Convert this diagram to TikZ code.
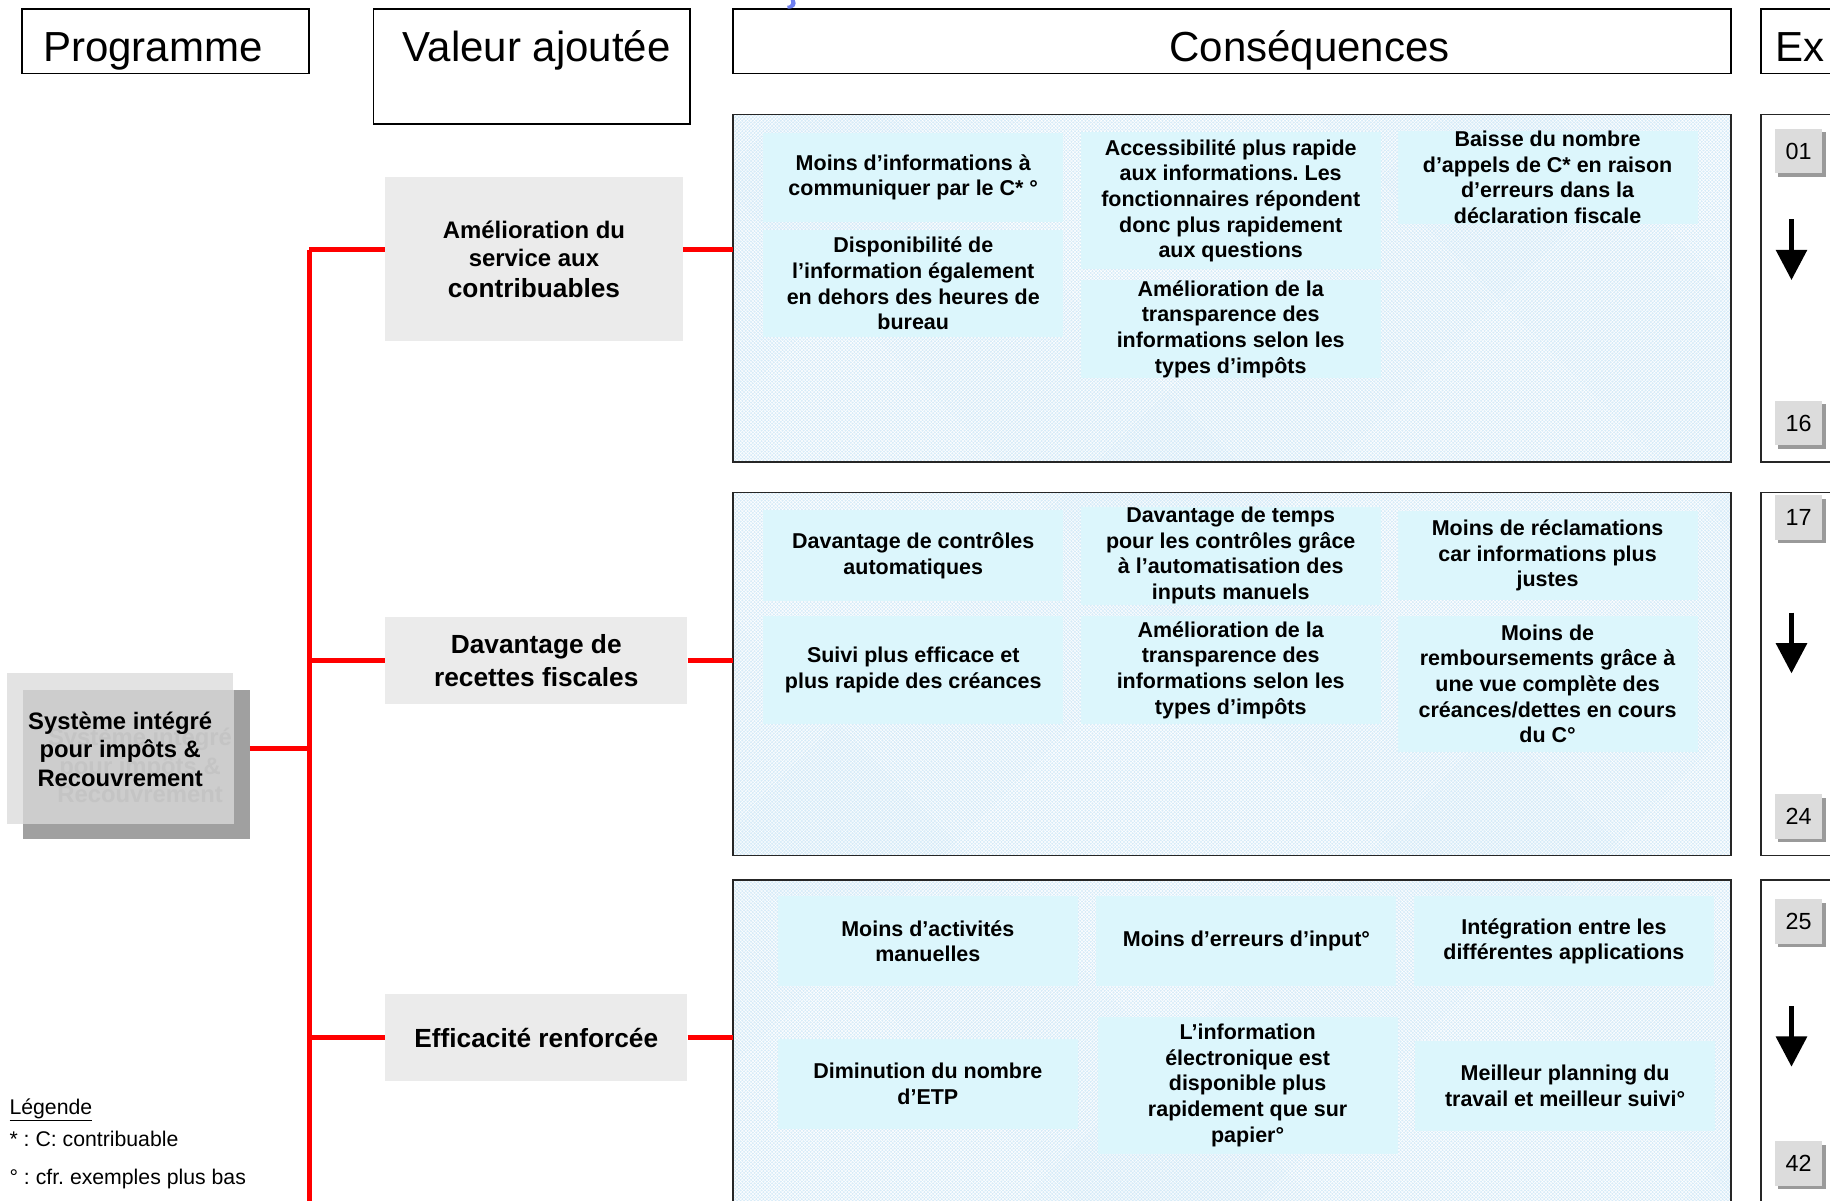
\documentclass[tikz,border=0pt]{standalone}
\usepackage{fontspec}
\setmainfont{Liberation Sans}
\usetikzlibrary{patterns,arrows.meta}
\frenchspacing
\definecolor{secbg}{HTML}{D6EBF8}
\definecolor{cellbg}{HTML}{DCF6FC}
\definecolor{valbg}{HTML}{EBEBEB}
\definecolor{tilebg}{HTML}{DCDCDC}
\definecolor{tilesh}{HTML}{9A9A9A}
\definecolor{proglight}{HTML}{E3E3E3}
\definecolor{progdark}{HTML}{A0A0A0}
\definecolor{progmid}{HTML}{CDCDCD}
\definecolor{ghost}{HTML}{C4C4C4}
\definecolor{bluemark}{HTML}{6E7FF0}
\newcommand\cellfont{\bfseries\fontsize{18.4}{22}\selectfont}
\newcommand\hdrfont{\fontsize{36}{40}\selectfont}
\begin{document}
\begin{tikzpicture}[x=1pt,y=-1pt,
  hdrbox/.style={draw=black, line width=1.5pt, inner sep=0pt},
  hdrtxt/.style={font=\hdrfont, inner sep=0pt, anchor=base},
  secbox/.style={fill=secbg, inner sep=0pt, minimum width=855pt,
     postaction={pattern=crosshatch, pattern color=white},
     postaction={draw=black!85, line width=1.5pt}},
  exbox/.style={draw=black!85, line width=1.5pt, inner sep=0pt, minimum width=91pt},
  cell/.style={fill=cellbg, inner sep=0pt, minimum width=257pt, align=center, font=\cellfont},
  valnode/.style={fill=valbg, inner sep=0pt, align=center},
  tile/.style={fill=tilebg, inner sep=0pt, minimum width=41pt, minimum height=38pt,
     font=\fontsize{20}{24}\selectfont,
     preaction={fill=tilesh, transform canvas={xshift=3pt, yshift=-3pt}}},
  redl/.style={draw=red, line width=4pt},
  bigarrow/.style={line width=4.5pt, -{Triangle[width=26pt,length=26pt]}},
  legend/.style={font=\fontsize{18.2}{22}\selectfont, inner sep=0pt, anchor=base west}]
\useasboundingbox (0,0) rectangle (1568,1029);
\clip (0,0) rectangle (1568,1029);

% headers
\node[hdrbox, minimum width=246pt, minimum height=55pt] (hprog) at (142,35.5) {};
\node[hdrtxt] (hprogt) at (131,53) {Programme};
\node[hdrbox, minimum width=271pt, minimum height=98pt] (hval) at (455.5,57) {};
\node[hdrtxt] (hvalt) at (460,53) {Valeur ajoutée};
\node[hdrbox, minimum width=855pt, minimum height=55pt] (hcons) at (1055.5,35.5) {};
\node[hdrtxt] (hconst) at (1122,53) {Conséquences};
\node[hdrbox, minimum width=91pt, minimum height=55pt] (hex) at (1554.5,35.5) {};
\node[hdrtxt, anchor=base west] (hext) at (1521,53) {Ex};
\fill[bluemark] (681,0) .. controls (683,4) and (681,7.5) .. (675,7.5) -- (674.5,5) .. controls (677.5,5) and (678.5,3) .. (677.5,0) -- cycle;

% section boxes
\node[secbox, minimum height=298pt] (s1) at (1055.5,247) {};
\node[secbox, minimum height=311pt] (s2) at (1055.5,577.5) {};
\node[secbox, minimum height=306pt] (s3) at (1055.5,907) {};

% ex boxes
\node[exbox, minimum height=298pt] (x1) at (1554.5,247) {};
\node[exbox, minimum height=311pt] (x2) at (1554.5,577.5) {};
\node[exbox, minimum height=306pt] (x3) at (1554.5,907) {};

% section 1 cells
\node[cell, minimum height=76pt] (c11) at (782.5,152) {Moins d’informations à\\communiquer par le C* °};
\node[cell, minimum height=92pt] (c12) at (782.5,243) {Disponibilité de\\l’information également\\en dehors des heures de\\bureau};
\node[cell, minimum height=117pt] (c21) at (1054.5,172) {Accessibilité plus rapide\\aux informations. Les\\fonctionnaires répondent\\donc plus rapidement\\aux questions};
\node[cell, minimum height=84pt] (c22) at (1054.5,282) {Amélioration de la\\transparence des\\informations selon les\\types d’impôts};
\node[cell, minimum height=77pt] (c31) at (1326,152) {Baisse du nombre\\d’appels de C* en raison\\d’erreurs dans la\\déclaration fiscale};

% section 2 cells
\node[cell, minimum height=78pt] (d11) at (782.5,476) {Davantage de contrôles\\automatiques};
\node[cell, minimum height=92pt] (d12) at (782.5,574) {Suivi plus efficace et\\plus rapide des créances};
\node[cell, minimum height=84pt] (d21) at (1054.5,476) {Davantage de temps\\pour les contrôles grâce\\à l’automatisation des\\inputs manuels};
\node[cell, minimum height=92pt] (d22) at (1054.5,574) {Amélioration de la\\transparence des\\informations selon les\\types d’impôts};
\node[cell, minimum height=77pt] (d31) at (1326,476) {Moins de réclamations\\car informations plus\\justes};
\node[cell, minimum height=116pt] (d32) at (1326,586) {Moins de\\remboursements grâce à\\une vue complète des\\créances/dettes en cours\\du C°};

% section 3 cells
\node[cell, minimum height=77pt] (e11) at (795,806.5) {Moins d’activités\\manuelles};
\node[cell, minimum height=77pt] (e12) at (795,928.5) {Diminution du nombre\\d’ETP};
\node[cell, minimum height=77pt] (e21) at (1068,806.5) {Moins d’erreurs d’input°};
\node[cell, minimum height=117pt] (e22) at (1069,930) {L’information\\électronique est\\disponible plus\\rapidement que sur\\papier°};
\node[cell, minimum height=77pt] (e31) at (1340,806.5) {Intégration entre les\\différentes applications};
\node[cell, minimum height=77pt] (e32) at (1341,930.5) {Meilleur planning du\\travail et meilleur suivi°};

% tiles and arrows
\node[tile] (t01) at (1541,129.5) {01};
\node[tile] (t16) at (1541,362.5) {16};
\node[tile] (t17) at (1541,443.5) {17};
\node[tile] (t24) at (1541,699.5) {24};
\node[tile] (t25) at (1541,789.5) {25};
\node[tile] (t42) at (1541,997) {42};
\coordinate (a1s) at (1535,188); \coordinate (a1e) at (1535,240);
\coordinate (a2s) at (1535,525); \coordinate (a2e) at (1535,577);
\coordinate (a3s) at (1535,862); \coordinate (a3e) at (1535,914);
\draw[bigarrow] (a1s) -- (a1e);
\draw[bigarrow] (a2s) -- (a2e);
\draw[bigarrow] (a3s) -- (a3e);

% value nodes
\node[valnode, minimum width=255pt, minimum height=140pt,
  font=\bfseries\fontsize{20.5}{24.5}\selectfont] (v1) at (457.5,222)
  {Amélioration du\\service aux\\[1.5pt]\fontsize{22.5}{26}\selectfont contribuables};
\node[valnode, minimum width=259pt, minimum height=75pt,
  font=\bfseries\fontsize{22.5}{28}\selectfont] (v2) at (459.5,566)
  {Davantage de\\recettes fiscales};
\node[valnode, minimum width=259pt, minimum height=74pt,
  font=\bfseries\fontsize{22.5}{28}\selectfont] (v3) at (459.5,889) {Efficacité renforcée};

% programme node
\node[fill=progdark, inner sep=0pt, minimum width=194pt, minimum height=128pt] (progsh) at (117,655) {};
\node[fill=proglight, inner sep=0pt, minimum width=194pt, minimum height=129pt] (prog) at (103,641.5) {};
\fill[progmid] (progsh.north west) rectangle (prog.south east);
\node[align=center, inner sep=0pt, text=ghost, font=\bfseries\fontsize{20.4}{24.5}\selectfont] (progghost) at (120,656)
  {Système intégré\\pour impôts \&\\Recouvrement};
\node[align=center, inner sep=0pt, font=\bfseries\fontsize{20.4}{24.5}\selectfont] (progtxt) at (103,642)
  {Système intégré\\pour impôts \&\\Recouvrement};

% red connectors
\coordinate (tTop) at (265,214);
\coordinate (tBot) at (265,1035);
\draw[redl] (tTop) -- (tBot);
\draw[redl] (tTop) -- (v1.west |- tTop);
\draw[redl] (v1.east |- tTop) -- (s1.west |- tTop);
\draw[redl] (v2.west) -- (v2.west -| tTop);
\draw[redl] (v2.east) -- (v2.east -| s2.west);
\draw[redl] (v3.west) -- (v3.west -| tTop);
\draw[redl] (v3.east) -- (v3.east -| s3.west);
\draw[redl] (progsh.east |- prog.center) -- (prog.center -| tTop);

% legend
\node[legend] (leg1) at (8,954.5) {\underline{Légende}};
\node[legend] (leg2) at (8,982) {* : C: contribuable};
\node[legend] (leg3) at (8,1015) {° : cfr. exemples plus bas};
\end{tikzpicture}
\end{document}
